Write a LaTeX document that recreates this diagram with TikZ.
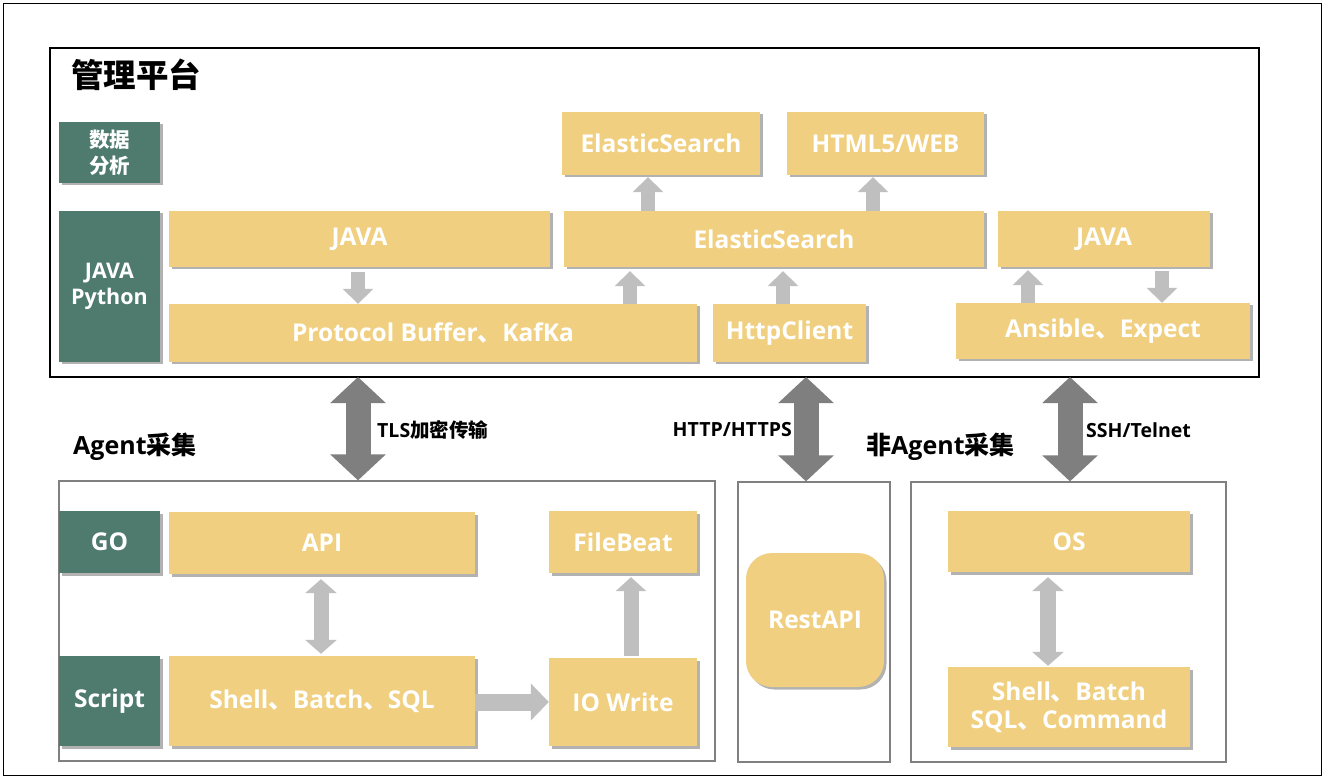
\documentclass[tikz,border=0pt]{standalone}
\usepackage{fontspec}
\setmainfont{Open Sans}
\newfontfamily\cjk{Noto Sans CJK SC}
\usetikzlibrary{arrows.meta,shadows}
\definecolor{yel}{HTML}{F0D080}
\definecolor{grn}{HTML}{4E7B6D}
\definecolor{lgray}{HTML}{BFBFBF}
\definecolor{dgray}{HTML}{7F7F7F}
\definecolor{bgray}{HTML}{808080}
\newcommand\dun{{\cjk\bfseries 、}}
\newcommand\zh[1]{{\cjk\bfseries #1}}
\begin{document}
\begin{tikzpicture}[x=1pt,y=-1pt,
 shadowed/.style={drop shadow={shadow xshift=2.5pt,shadow yshift=-2.5pt,opacity=0.3,fill=black}},
 ybox/.style={shadowed,fill=yel,text=white,font=\bfseries\fontsize{24.5}{28}\selectfont,inner sep=0pt,align=center},
 gbox/.style={shadowed,fill=grn,text=white,font=\bfseries\fontsize{22}{26}\selectfont,inner sep=0pt,align=center},
 cont/.style={draw=bgray,line width=1.2pt,inner sep=0pt},
 la/.style={draw=lgray,line width=14pt,-{Triangle[width=30pt,length=15pt]}},
 lda/.style={draw=lgray,line width=15pt,{Triangle[width=31pt,length=14pt]}-{Triangle[width=31pt,length=14pt]}},
 da/.style={draw=dgray,line width=25pt,{Triangle[width=54pt,length=26pt]}-{Triangle[width=54pt,length=26pt]}},
 lab/.style={font=\bfseries\fontsize{19.5}{23}\selectfont,inner sep=0pt},
 sec/.style={font=\bfseries\fontsize{25}{30}\selectfont,inner sep=0pt},
]
\fill[white] (0,0) rectangle (1330,783);
\useasboundingbox (0,0) rectangle (1330,783);
% frames
\draw[black,line width=1pt] (3,4) rectangle (1321,775);
\draw[black,line width=1.3pt] (50,48) rectangle (1259,377);
\node[cont,minimum width=656pt,minimum height=280pt] (agentbox) at (387,621) {};
\node[cont,minimum width=152pt,minimum height=280pt] (restbox) at (814,622) {};
\node[cont,minimum width=315pt,minimum height=280pt] (nabox) at (1068.5,622) {};
\coordinate (mgmtS) at (654,377);

% title and section labels
\node[anchor=west,font=\cjk\bfseries\fontsize{32.5}{38}\selectfont,inner sep=0pt] (title) at (71,75) {管理平台};
\node[sec,anchor=west] (agentlab) at (73,447) {Agent\zh{采集}};
\node[sec,anchor=west] (nalab) at (866,447) {\zh{非}Agent\zh{采集}};

% management platform
\node[gbox,minimum width=101pt,minimum height=61pt,font=\cjk\bfseries\fontsize{20.5}{26}\selectfont] (ana) at (109.5,152.5) {数据\\分析};
\node[gbox,minimum width=101pt,minimum height=151pt,font=\bfseries\fontsize{21.5}{26}\selectfont] (jp) at (109.5,286.5) {JAVA\\Python};
\node[ybox,minimum width=381pt,minimum height=56pt] (java1) at (359.5,239) {JAVA};
\node[ybox,minimum width=528pt,minimum height=58pt] (pb) at (433,333) {Protocol Buffer\dun KafKa};
\node[ybox,minimum width=198pt,minimum height=63pt] (est) at (661,143.5) {ElasticSearch};
\node[ybox,minimum width=197pt,minimum height=63pt] (html) at (885.5,143.5) {HTML5/WEB};
\node[ybox,minimum width=420pt,minimum height=56pt] (esm) at (774,239) {ElasticSearch};
\node[ybox,minimum width=153pt,minimum height=58pt] (http) at (789.5,333) {HttpClient};
\node[ybox,minimum width=212pt,minimum height=56pt] (java2) at (1104,239) {JAVA};
\node[ybox,minimum width=294pt,minimum height=56pt] (ans) at (1103,331) {Ansible\dun Expect};

% agent
\node[gbox,minimum width=101pt,minimum height=62pt,font=\bfseries\fontsize{24.5}{28}\selectfont] (go) at (109.5,542) {GO};
\node[gbox,minimum width=101pt,minimum height=90pt,font=\bfseries\fontsize{24.5}{28}\selectfont] (scr) at (109.5,701) {Script};
\node[ybox,minimum width=306pt,minimum height=62pt] (api) at (322,543) {API};
\node[ybox,minimum width=306pt,minimum height=90pt] (sbs) at (322,701) {Shell\dun Batch\dun SQL};
\node[ybox,minimum width=148pt,minimum height=62pt] (fb) at (623,542) {FileBeat};
\node[ybox,minimum width=148pt,minimum height=88pt] (io) at (623,702) {IO Write};
% rest
\node[ybox,minimum width=138pt,minimum height=134pt,rounded corners=26pt] (rest) at (815,620) {RestAPI};
% non agent
\node[ybox,minimum width=242pt,minimum height=61pt] (os) at (1069,541.5) {OS};
\node[ybox,minimum width=242pt,minimum height=80pt,font=\bfseries\fontsize{24.5}{28}\selectfont] (sbc) at (1069,707) {Shell\dun Batch\\SQL\dun Command};

% dark double arrows
\draw[da] (358,0 |- mgmtS) -- (358,0 |- agentbox.north);
\draw[da] (806,0 |- mgmtS) -- (806,0 |- restbox.north);
\draw[da] (1070,0 |- mgmtS) -- (1070,0 |- nabox.north);
\node[lab,anchor=west] (tls) at (377,430) {TLS\zh{加密传输}};
\node[lab,anchor=east] (hh) at (792,430) {HTTP/HTTPS};
\node[lab,anchor=west] (ssh) at (1086,430) {SSH/Telnet};

% light arrows
\draw[la] ([yshift=-5pt]358,0 |- java1.south) -- (358,0 |- pb.north);
\draw[la] (630,0 |- pb.north) -- ([yshift=-4pt]630,0 |- esm.south);
\draw[la] (783,0 |- http.north) -- ([yshift=-4pt]783,0 |- esm.south);
\draw[la] (648,0 |- esm.north) -- ([yshift=-2pt]648,0 |- est.south);
\draw[la] (873,0 |- esm.north) -- ([yshift=-2pt]873,0 |- html.south);
\draw[la] (1028,0 |- ans.north) -- ([yshift=-3pt]1028,0 |- java2.south);
\draw[la] ([yshift=-4pt]1162,0 |- java2.south) -- (1162,0 |- ans.north);
\draw[lda] ([yshift=-5pt]321,0 |- api.south) -- ([yshift=2pt]321,0 |- sbs.north);
\draw[draw=lgray,line width=17pt,-{Triangle[width=36pt,length=18pt]}] (sbs.east |- 0,702) -- (io.west |- 0,702);
\draw[draw=lgray,line width=15pt,-{Triangle[width=30pt,length=14pt]}] ([yshift=2pt]631,0 |- io.north) -- ([yshift=-4pt]631,0 |- fb.south);
\draw[lda,line width=16pt] ([yshift=-5pt]1048,0 |- os.south) -- ([yshift=1pt]1048,0 |- sbc.north);
\end{tikzpicture}
\end{document}
